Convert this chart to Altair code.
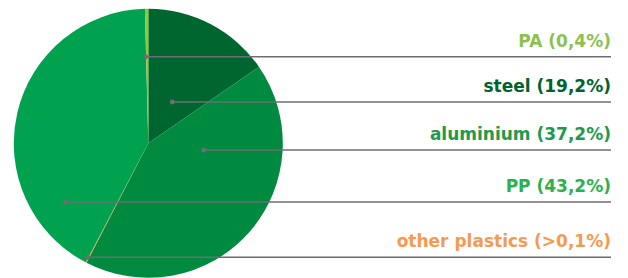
import altair as alt
import pandas as pd

# ---- data ----
materials = ["steel", "aluminium", "other plastics", "PP", "PA"]
shares = [15.4, 42.2, 0.1, 41.9, 0.4]          # slice sizes as drawn
label_order = ["PA", "steel", "aluminium", "PP", "other plastics"]
label_texts = ["PA (0,4%)", "steel (19,2%)", "aluminium (37,2%)",
               "PP (43,2%)", "other plastics (>0,1%)"]

# ---- styling / layout ----
slice_colors = ["#00662F", "#008A3F", "#F7943C", "#00A14F", "#8DC63F"]
text_colors = ["#8CC152", "#00622D", "#1F9A4B", "#2DB04E", "#F79A51"]
W, H = 612, 270
CX, CY, R = 140.3, 135.3, 134.5
leader_y = [48.7, 94.0, 142.0, 194.0, 249.3]
leader_x = [137.7, 164.3, 195.7, 57.3, 79.7]
RIGHT = 603

pie_df = pd.DataFrame({"material": materials, "share": shares,
                       "idx": list(range(len(materials)))})
lab_df = pd.DataFrame({"material": label_order, "label": label_texts,
                       "ly": leader_y, "lx": leader_x, "tc": text_colors})

xs = alt.Scale(domain=[0, W], range=[0, W])
ys = alt.Scale(domain=[0, H], range=[0, H])

pie = alt.Chart(pie_df).mark_arc(radius=R, strokeWidth=0).encode(
    theta=alt.Theta("share:Q", stack=True),
    order=alt.Order("idx:Q", sort="ascending"),
    color=alt.Color("material:N", scale=alt.Scale(domain=materials, range=slice_colors), legend=None),
    x=alt.value(CX), y=alt.value(CY),
)

rules = alt.Chart(lab_df).mark_rule(color="#6D6E71", strokeWidth=1.5).encode(
    x=alt.X("lx:Q", scale=xs, axis=None),
    x2=alt.value(RIGHT),
    y=alt.Y("ly:Q", scale=ys, axis=None),
)

dots = alt.Chart(lab_df).mark_circle(color="#6D6E71", opacity=1, size=24).encode(
    x=alt.X("lx:Q", scale=xs, axis=None),
    y=alt.Y("ly:Q", scale=ys, axis=None),
)

texts = alt.Chart(lab_df).mark_text(
    align="right", baseline="alphabetic", dy=-10,
    font="DejaVu Sans", fontWeight="bold", fontSize=17,
).encode(
    x=alt.value(RIGHT),
    y=alt.Y("ly:Q", scale=ys, axis=None),
    text="label:N",
    color=alt.Color("tc:N", scale=None),
)

chart = alt.layer(pie, rules, dots, texts).properties(
    width=W, height=H, padding=0, autosize="none"
).configure_view(stroke=None)

chart.save("out.html", embed_options={"renderer": "svg", "actions": False})
